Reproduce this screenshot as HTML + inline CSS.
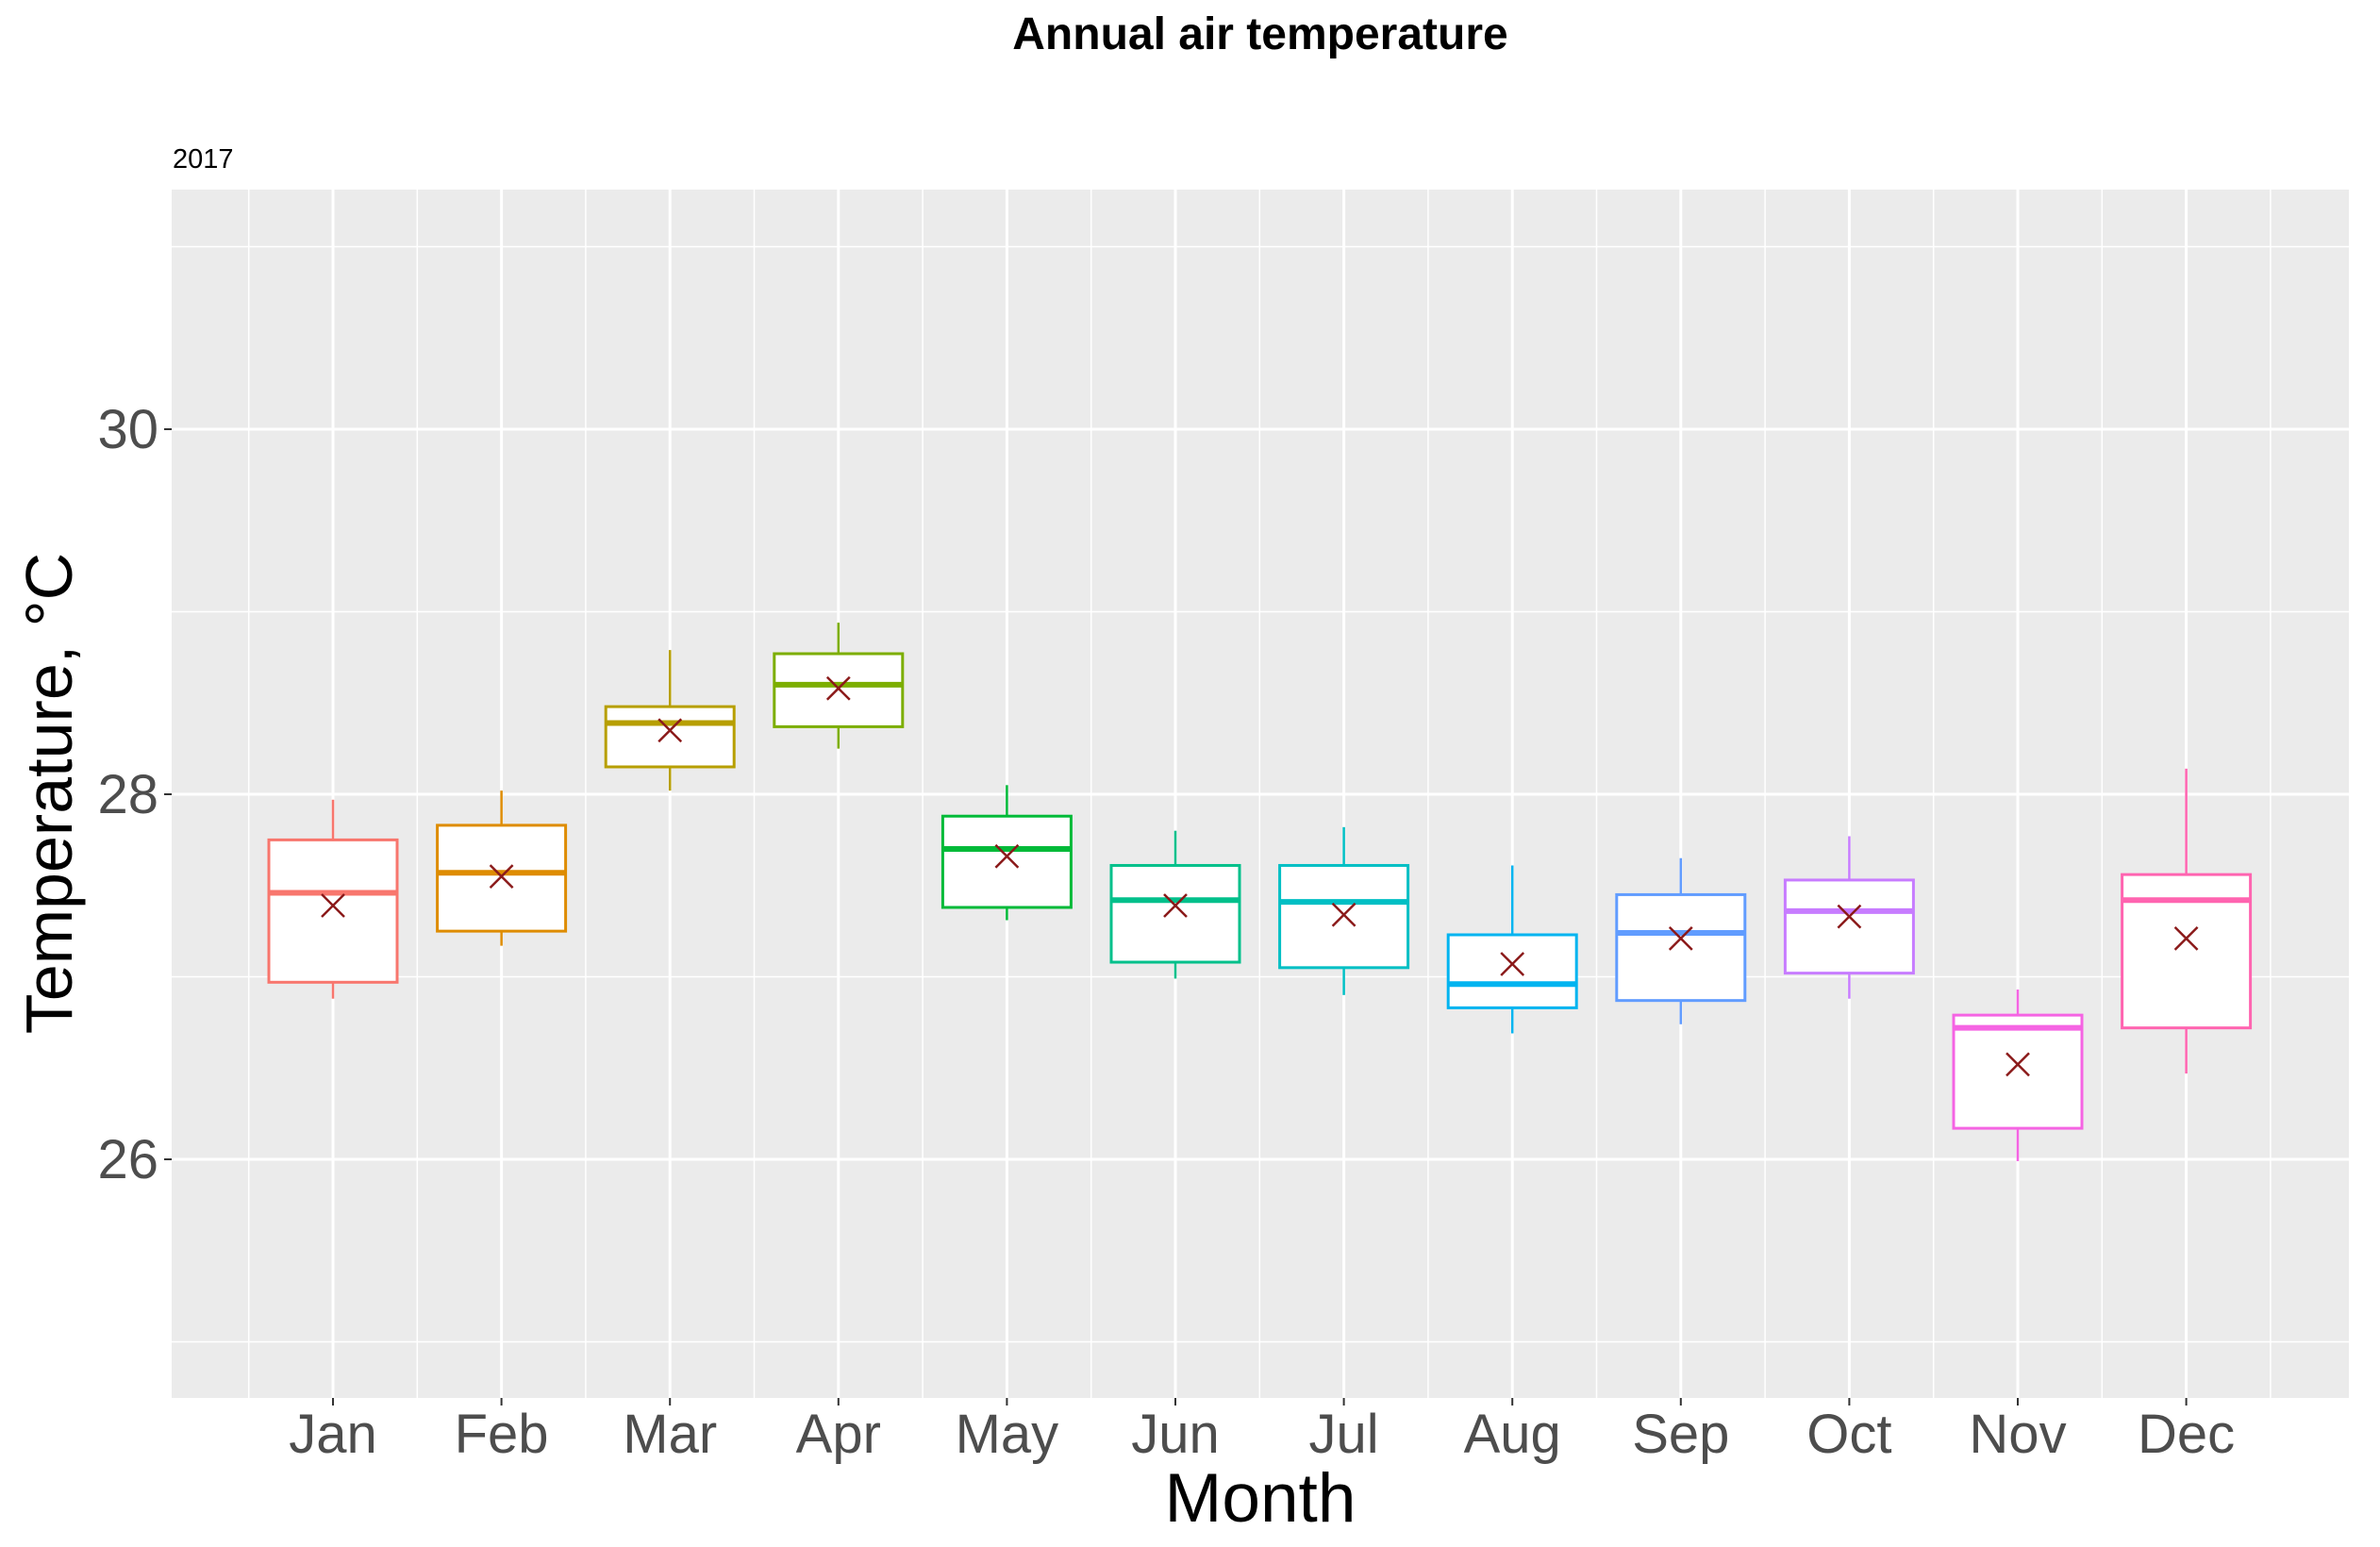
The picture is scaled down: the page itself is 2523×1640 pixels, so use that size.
<!DOCTYPE html>
<html><head><meta charset="utf-8"><style>
html,body{margin:0;padding:0;background:#fff;}
svg{display:block;font-family:"Liberation Sans",sans-serif;}
</style></head><body>
<svg id="chart" width="2523" height="1640" viewBox="0 0 2523 1640" xmlns="http://www.w3.org/2000/svg">
<text x="1336" y="52" font-size="48" font-weight="bold" text-anchor="middle">Annual air temperature</text>
<text x="183" y="178" font-size="29">2017</text>
<rect x="182" y="201" width="2308" height="1281" fill="#ebebeb"/>
<g id="grid"></g>
<g id="boxes"></g>
<g id="axes"></g>
<text x="1336" y="1613" font-size="73" text-anchor="middle">Month</text>
<text transform="translate(76,841) rotate(-90)" font-size="70" text-anchor="middle">Temperature, °C</text>
</svg>
<script>
const months = ["Jan","Feb","Mar","Apr","May","Jun","Jul","Aug","Sep","Oct","Nov","Dec"];
const whiskerHigh = [27.97,28.02,28.79,28.94,28.05,27.80,27.82,27.61,27.65,27.77,26.93,28.14];
const q3Values = [27.75,27.83,28.48,28.77,27.88,27.61,27.61,27.23,27.45,27.53,26.79,27.56];
const medianValues = [27.46,27.57,28.39,28.60,27.70,27.42,27.41,26.96,27.24,27.36,26.72,27.42];
const q1Values = [26.97,27.25,28.15,28.37,27.38,27.08,27.05,26.83,26.87,27.02,26.17,26.72];
const whiskerLow = [26.88,27.17,28.02,28.25,27.31,26.99,26.90,26.69,26.74,26.88,25.99,26.47];
const meanValues = [27.39,27.55,28.35,28.58,27.66,27.39,27.34,27.07,27.21,27.33,26.52,27.21];
const colors = ["#F8766D","#DE8C00","#B79F00","#7CAE00","#00BA38","#00C08B","#00BFC4","#00B4F0","#619CFF","#C77CFF","#F564E3","#FF64B0"];
const yTicks = [26,28,30];
const yMinor = [25,27,29,31];

const NS="http://www.w3.org/2000/svg";
const pL=182,pR=2490,pT=201,pB=1482;
const y=v=>455-(v-30)*193.5;
const x=i=>353+i*178.6;
function mk(tag,attrs,parent){const e=document.createElementNS(NS,tag);for(const k in attrs)e.setAttribute(k,attrs[k]);parent.appendChild(e);return e;}
const grid=document.getElementById('grid'),boxes=document.getElementById('boxes'),axes=document.getElementById('axes');

yMinor.forEach(v=>{const l=mk('line',{x1:pL,x2:pR,y1:y(v),y2:y(v),stroke:'#fff','stroke-width':1.5},grid);

});
for(let i=-1;i<months.length;i++){const xv=x(i)+89.3;if(xv>pL&&xv<pR){const l=mk('line',{x1:xv,x2:xv,y1:pT,y2:pB,stroke:'#fff','stroke-width':1.5},grid);

}}
yTicks.forEach(v=>{const l=mk('line',{x1:pL,x2:pR,y1:y(v),y2:y(v),stroke:'#fff','stroke-width':3},grid);


const t=mk('line',{x1:pL-8,x2:pL,y1:y(v),y2:y(v),stroke:'#333','stroke-width':2},axes);


const tx=mk('text',{x:pL-14,y:y(v)+20,'font-size':58,'text-anchor':'end',fill:'#4d4d4d'},axes);
tx.textContent=v;

});
months.forEach((m,i)=>{const l=mk('line',{x1:x(i),x2:x(i),y1:pT,y2:pB,stroke:'#fff','stroke-width':3},grid);


const t=mk('line',{x1:x(i),x2:x(i),y1:pB,y2:pB+8,stroke:'#333','stroke-width':2},axes);


const tx=mk('text',{x:x(i),y:1540,'font-size':58,'text-anchor':'middle',fill:'#4d4d4d'},axes);
tx.textContent=m;

});

const hw=68;
months.forEach((m,i)=>{
 const g=mk('g',{},boxes);
 
 
 const c=colors[i],cx=x(i);
 mk('line',{x1:cx,x2:cx,y1:y(whiskerHigh[i]),y2:y(q3Values[i]),stroke:c,'stroke-width':2.5},g);
 mk('line',{x1:cx,x2:cx,y1:y(q1Values[i]),y2:y(whiskerLow[i]),stroke:c,'stroke-width':2.5},g);
 mk('rect',{x:cx-hw,y:y(q3Values[i]),width:hw*2,height:y(q1Values[i])-y(q3Values[i]),fill:'#fff',stroke:c,'stroke-width':3},g);
 mk('line',{x1:cx-hw,x2:cx+hw,y1:y(medianValues[i]),y2:y(medianValues[i]),stroke:c,'stroke-width':6},g);
 const my=y(meanValues[i]),s=12;
 mk('path',{d:`M${cx-s},${my-s}L${cx+s},${my+s}M${cx+s},${my-s}L${cx-s},${my+s}`,stroke:'#8b1a1a','stroke-width':2.5,fill:'none'},g);
});
</script>
</body></html>
